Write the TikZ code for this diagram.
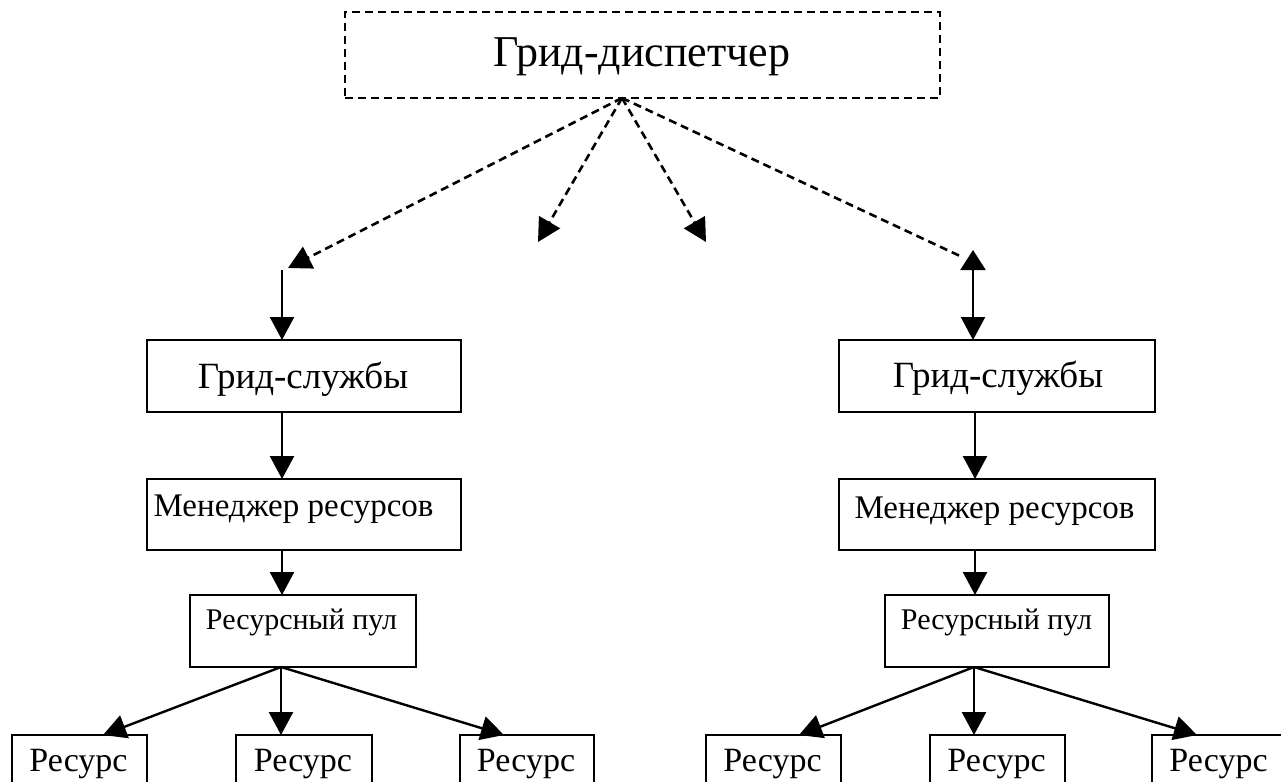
\documentclass[tikz,border=0pt]{standalone}
\usepackage{fontspec}
\setmainfont{Liberation Serif}
\usetikzlibrary{arrows.meta}
\newcommand\fsDisp{\fontsize{44bp}{44bp}\selectfont}
\newcommand\fsGs{\fontsize{37bp}{37bp}\selectfont}
\newcommand\fsMr{\fontsize{33bp}{33bp}\selectfont}
\newcommand\fsRp{\fontsize{30bp}{30bp}\selectfont}
\newcommand\fsRes{\fontsize{34bp}{34bp}\selectfont}
\begin{document}
\begin{tikzpicture}[x=1bp,y=-1bp,
  box/.style={draw, line width=1.8bp, inner sep=0pt, outer sep=0pt, rectangle},
  dbox/.style={box, line width=2bp, dash pattern=on 8bp off 5bp},
  lbl/.style={anchor=base, inner sep=0pt, outer sep=0pt},
  tip/.style={-{Triangle[length=23bp,width=24bp]}},
  arr/.style={tip, line width=2.4bp},
  darr/.style={tip, line width=2.6bp, dash pattern=on 8bp off 5bp}
]
\useasboundingbox (0,0) rectangle (1281,782);
\clip (0,0) rectangle (1281,782);
\fill[white] (0,0) rectangle (1281,782);

% top
\node[dbox, minimum width=595bp, minimum height=86bp] (disp) at (642.5,55) {};
\node[lbl, font=\fsDisp] (dispT) at (642,67) {Грид-диспетчер};
\coordinate (ap) at (622,98);

% left column
\node[box, minimum width=314bp, minimum height=72bp] (gs1) at (304,376) {};
\node[lbl, font=\fsGs] (gs1T) at (303,388) {Грид-службы};
\node[box, minimum width=314bp, minimum height=71bp] (mr1) at (304,514.5) {};
\node[lbl, font=\fsMr] (mr1T) at (293.5,516) {Менеджер ресурсов};
\node[box, minimum width=226bp, minimum height=72bp] (rp1) at (303,631) {};
\node[lbl, font=\fsRp] (rp1T) at (301.5,629) {Ресурсный пул};
\node[box, minimum width=135bp, minimum height=70bp] (r1) at (79.5,770) {};
\node[lbl, font=\fsRes] (r1T) at (78.5,771) {Ресурс};
\node[box, minimum width=136bp, minimum height=70bp] (r2) at (304,770) {};
\node[lbl, font=\fsRes] (r2T) at (303,771) {Ресурс};
\node[box, minimum width=134bp, minimum height=70bp] (r3) at (527,770) {};
\node[lbl, font=\fsRes] (r3T) at (526,771) {Ресурс};

% right column
\node[box, minimum width=316bp, minimum height=72bp] (gs2) at (997,376) {};
\node[lbl, font=\fsGs] (gs2T) at (998,387) {Грид-службы};
\node[box, minimum width=316bp, minimum height=71bp] (mr2) at (997,514.5) {};
\node[lbl, font=\fsMr] (mr2T) at (994.5,518) {Менеджер ресурсов};
\node[box, minimum width=224bp, minimum height=72bp] (rp2) at (997,631) {};
\node[lbl, font=\fsRp] (rp2T) at (996.5,629) {Ресурсный пул};
\node[box, minimum width=135bp, minimum height=70bp] (r4) at (773.5,770) {};
\node[lbl, font=\fsRes] (r4T) at (772.5,771) {Ресурс};
\node[box, minimum width=135bp, minimum height=70bp] (r5) at (997.5,770) {};
\node[lbl, font=\fsRes] (r5T) at (996.5,771) {Ресурс};
\node[box, minimum width=135bp, minimum height=70bp] (r6) at (1219.5,770) {};
\node[lbl, font=\fsRes] (r6T) at (1218.5,771) {Ресурс};

% dashed arrows from dispatcher
\coordinate (d1) at (288,268);
\coordinate (d2) at (538,242);
\coordinate (d3) at (706,242);
\coordinate (d4) at (960,256);
\draw[darr] (ap) -- (d1);
\draw[darr] (ap) -- (d2);
\draw[darr] (ap) -- (d3);
\draw[line width=2.6bp, dash pattern=on 8bp off 5bp] (ap) -- (d4);

% left vertical chain
\coordinate (v1) at (282,270);
\draw[arr] (v1) -- (v1 |- gs1.north);
\draw[arr] (282,412) coordinate (g1b) -- (g1b |- mr1.north);
\draw[arr] (282,550) coordinate (m1b) -- (m1b |- rp1.north);
\coordinate (p1) at (281,667);
\draw[arr] (p1) -- (103,735);
\draw[arr] (p1) -- (p1 |- r2.north);
\draw[arr] (p1) -- (504,735);

% right vertical chain
\coordinate (v2) at (973,250);
\draw[line width=2.4bp, {Triangle[length=20bp,width=25bp]}-{Triangle[length=23bp,width=24bp]}] (v2) -- (v2 |- gs2.north);
\draw[arr] (975,412) coordinate (g2b) -- (g2b |- mr2.north);
\draw[arr] (975,550) coordinate (m2b) -- (m2b |- rp2.north);
\coordinate (p2) at (974,667);
\draw[arr] (p2) -- (799,735);
\draw[arr] (p2) -- (p2 |- r5.north);
\draw[arr] (p2) -- (1197,735);
\end{tikzpicture}
\end{document}
